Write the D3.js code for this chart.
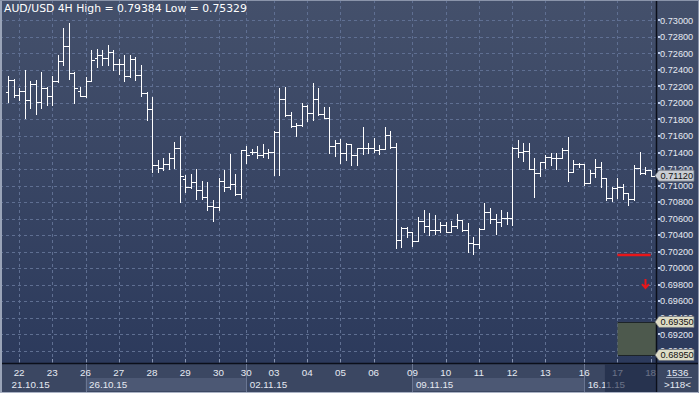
<!DOCTYPE html>
<html><head><meta charset="utf-8">
<script src="https://cdn.jsdelivr.net/npm/d3@7"></script>
<style>html,body{margin:0;padding:0;background:#3a4661;overflow:hidden}svg{display:block}</style>
</head><body>
<svg id="c" width="699" height="393"></svg>
<script>
// ---- DATA ----
const title = "AUD/USD 4H High = 0.79384 Low = 0.75329";
const opens = [
.72132,.72274,.72093,.72148,.72032,.72226,.72011,.72181,.7208,.72269,
.72504,.72689,.72362,.72148,.72084,.72269,.72547,.72576,.72547,.72616,
.72475,.72475,.72326,.72535,.72335,.72124,.7193,.71249,.71213,.71258,
.7133,.71458,.7108,.70987,.7104,.70947,.70866,.70757,.70745,.71056,
.70987,.71016,.70895,.71427,.71403,.7141,.7137,.71391,.7141,.71652,
.72044,.71854,.71725,.71733,.71967,.71875,.72048,.71863,.71814,.71479,
.71512,.71391,.71503,.7137,.71451,.71458,.71458,.71431,.71443,.71612,
.71471,.70342,.7049,.70435,.7033,.70572,.70515,.70463,.70463,.70523,
.70442,.70511,.70584,.70463,.70302,.7029,.70475,.70677,.70596,.70563,
.70608,.70608,.71451,.7141,.71419,.71201,.71156,.71282,.7135,.71337,
.71337,.71431,.71168,.71258,.71258,.71028,.71156,.71221,.71088,.70853,
.70967,.70979,.70907,.70838,.71216,.71149,.71189];
const highs = [
.72322,.72293,.72181,.72395,.72262,.72274,.72374,.72193,.72322,.72584,
.72907,.72967,.72374,.72193,.72314,.72637,.72656,.72637,.72697,.72637,
.72535,.72584,.72584,.72556,.72456,.72132,.72072,.7131,.71334,.71391,
.71531,.716,.71128,.71137,.71197,.71056,.7104,.70826,.71088,.71189,
.71379,.71137,.71431,.71483,.71443,.71483,.715,.71443,.71661,.72184,
.72189,.71894,.71754,.71996,.71975,.72238,.72177,.71955,.71955,.71552,
.71564,.71512,.71503,.71451,.71705,.71512,.71579,.71491,.71713,.71661,
.71512,.70503,.70503,.70442,.70624,.70705,.70665,.70644,.70556,.70563,
.70572,.70653,.70584,.70544,.70382,.70483,.70786,.70725,.70653,.70705,
.7068,.71471,.71552,.71512,.71512,.7133,.71282,.7137,.71391,.71391,
.71451,.71592,.7131,.71277,.71258,.71189,.71322,.71282,.71088,.70987,
.71088,.71016,.70907,.71249,.71403,.71229,.71189];
const lows = [
.72011,.72072,.72039,.71818,.71942,.71863,.71942,.71971,.71979,.72253,
.72456,.72293,.72003,.7208,.72072,.72269,.72435,.72463,.72463,.72395,
.72354,.72269,.72314,.72281,.7208,.7179,.71164,.71164,.71189,.71197,
.71216,.70805,.70919,.70967,.70838,.70838,.70705,.70575,.70705,.70935,
.70959,.70886,.70846,.7127,.71379,.7133,.7135,.71337,.71128,.71128,
.71846,.71705,.71604,.71725,.71782,.71794,.71854,.71814,.71391,.71362,
.7127,.7131,.71249,.71249,.71379,.71391,.71403,.71379,.71443,.71458,
.70241,.70261,.70382,.70273,.7033,.70442,.70402,.70411,.70435,.70442,
.70442,.70483,.70451,.702,.70169,.70248,.70475,.70544,.70411,.70511,
.70535,.70523,.7135,.71298,.71197,.70866,.7112,.71209,.71249,.71197,
.7133,.71056,.71168,.71229,.71007,.71028,.71108,.70987,.70826,.70814,
.70846,.70838,.70765,.70826,.71137,.71137,.7112];
const closes = [
.72274,.72093,.72148,.72032,.72226,.72011,.72181,.7208,.72269,.72504,
.72689,.72362,.72181,.72084,.72269,.72516,.72576,.72547,.72616,.72475,
.72475,.72326,.72535,.72335,.72124,.7193,.71249,.71213,.71258,.7133,
.71458,.7112,.70987,.7104,.70947,.70866,.70757,.70745,.71056,.70987,
.71016,.70895,.71427,.7137,.7141,.7137,.71391,.7141,.71652,.72044,
.71854,.71725,.71733,.71967,.71875,.72048,.71863,.71814,.71479,.71512,
.71391,.71503,.7137,.71451,.71458,.71458,.71431,.71443,.71612,.71471,
.70342,.7049,.70435,.7033,.70572,.70515,.70463,.70463,.70523,.70442,
.70511,.70584,.70463,.70302,.7029,.70475,.70677,.70596,.70563,.70608,
.70608,.71451,.7141,.71419,.71201,.71156,.71282,.7135,.71337,.71337,
.71431,.71168,.71258,.71258,.71028,.71156,.71221,.71088,.70853,.70967,
.70979,.70907,.70838,.71216,.71149,.71189,.7112];
const dayLabels = ["22","23","26","27","28","29","30","30","03","04","05","06","09","10","11","12","13","16","17","18"];
const dayIndex  = [2,8,14,20,26,32,38,43,48,54,60,66,73,79,85,91,97,104,110,116];
const weekLabels = ["21.10.15","26.10.15","02.11.15","09.11.15","16.11.15"];
const weekStart  = [0,14,43,73,104];
const priceTicks = [0.730,0.728,0.726,0.724,0.722,0.720,0.718,0.716,0.714,0.712,0.710,
                    0.708,0.706,0.704,0.702,0.700,0.698,0.696,0.694,0.692,0.690];
const currentPrice = 0.71120;
const levelPrices = [0.69350, 0.68950];
const signalPrice = 0.7016, signalFrom = 110, signalTo = 116;
const arrowIndex = 115, arrowPrice = 0.6976;
const barCount = "1536", shiftText = ">118<";
const overlayFrom = 107.75;

// ---- LAYOUT ----
const W = 699, H = 393, plotR = 656, plotB = 363;
const x = d3.scaleLinear().domain([0, 116]).range([8, 650.64]);
const y = d3.scaleLinear().domain([0.69, 0.73]).range([350.86, 20.3]);
const px = v => Math.round(v) + 0.5;

const svg = d3.select("#c");
const defs = svg.append("defs");
const gr = defs.append("linearGradient").attr("id","bg").attr("x1",0).attr("y1",0).attr("x2",0).attr("y2",1);
gr.append("stop").attr("offset","0%").attr("stop-color","#44506b");
gr.append("stop").attr("offset","100%").attr("stop-color","#2c3a5c");

svg.append("rect").attr("width", W).attr("height", plotB).attr("fill","url(#bg)");
svg.append("rect").attr("y", plotB).attr("width", W).attr("height", H - plotB).attr("fill","#3b4762");

// grid
const grid = svg.append("g").attr("stroke","#5f6f92").attr("stroke-dasharray","3,3").attr("shape-rendering","crispEdges");
grid.selectAll("line.h").data(priceTicks).join("line").attr("class","h")
  .attr("x1",0).attr("x2",plotR).attr("y1",d=>px(y(d))).attr("y2",d=>px(y(d)));
grid.selectAll("line.v").data(dayIndex).join("line").attr("class","v")
  .attr("y1",0).attr("y2",plotB).attr("x1",d=>px(x(d))).attr("x2",d=>px(x(d)));

// level box
svg.append("rect").attr("x", px(x(signalFrom))).attr("width", plotR - px(x(signalFrom)))
  .attr("y", y(levelPrices[0])).attr("height", y(levelPrices[1]) - y(levelPrices[0]))
  .attr("fill","#4d594d");
svg.selectAll("line.lvl").data(levelPrices).join("line").attr("class","lvl")
  .attr("x1", px(x(signalFrom))).attr("x2", plotR).attr("y1", d=>px(y(d))).attr("y2", d=>px(y(d)))
  .attr("stroke","#1d2428").attr("shape-rendering","crispEdges");

// signal line and arrow
svg.append("line").attr("x1", x(signalFrom)).attr("x2", x(signalTo))
  .attr("y1", Math.round(y(signalPrice))).attr("y2", Math.round(y(signalPrice)))
  .attr("stroke","#e8161a").attr("stroke-width",2.4);
const ax = px(x(arrowIndex)), ay = y(arrowPrice);
svg.append("path").attr("d", `M${ax},${ay-9}V${ay}M${ax-3.5},${ay-4}L${ax},${ay}L${ax+3.5},${ay-4}`)
  .attr("stroke","#e8161a").attr("stroke-width",2).attr("fill","none");

// bars
const idx = d3.range(opens.length);
const bars = svg.append("g").attr("stroke","#ffffff").attr("stroke-width",1).attr("shape-rendering","crispEdges");
bars.selectAll("path").data(idx).join("path").attr("d", i => {
  const cx = px(x(i));
  const hy = Math.round(y(highs[i])), ly = Math.round(y(lows[i])) + 1;
  const oy = px(y(opens[i])), cy = px(y(closes[i]));
  return `M${cx},${hy}V${ly}M${cx-3},${oy}H${cx}M${cx},${cy}H${cx+3}`;
});

// title
svg.append("text").attr("x",4).attr("y",12).text(title)
  .attr("font-family","DejaVu Sans, Verdana, sans-serif").attr("font-size","10.8px").attr("fill","#ffffff");

// separators
svg.append("line").attr("x1",0).attr("x2",W).attr("y1",plotB+0.5).attr("y2",plotB+0.5).attr("stroke","#0b0f1a").attr("stroke-width",1.5);
svg.append("line").attr("x1",plotR+0.5).attr("x2",plotR+0.5).attr("y1",0).attr("y2",H).attr("stroke","#0b0f1a").attr("stroke-width",1.5);

// right axis
const axisFont = "Liberation Sans, Arial, sans-serif";
const ra = svg.append("g");
ra.selectAll("rect.tk").data(priceTicks).join("rect").attr("class","tk")
  .attr("x",658).attr("y",d=>Math.round(y(d))-1).attr("width",2).attr("height",2).attr("fill","#c6d4f2");
ra.selectAll("text").data(priceTicks).join("text")
  .attr("x",660).attr("y",d=>y(d)).attr("dy","0.35em")
  .attr("font-family",axisFont).attr("font-size","9.2px").attr("fill","#e6eaf2")
  .text(d=>d3.format(".5f")(d));

function priceTag(v, fill){
  const c = y(v);
  const t = svg.append("g");
  t.append("path").attr("d",`M655,${c}L659,${c-5.5}H694V${c+5.5}H659Z`).attr("fill",fill).attr("stroke","#6f747c").attr("stroke-width",0.8);
  t.append("text").attr("x",660.5).attr("y",c).attr("dy","0.36em").attr("font-family",axisFont)
    .attr("font-size","9.2px").attr("fill","#101010").text(d3.format(".5f")(v));
}
priceTag(currentPrice, "#c9cdd3");
levelPrices.forEach(v => priceTag(v, "#dedcc6"));

// bottom axis
const ba = svg.append("g");
ba.selectAll("line.dt").data(dayIndex).join("line").attr("class","dt")
  .attr("x1",d=>px(x(d))).attr("x2",d=>px(x(d))).attr("y1",359).attr("y2",362).attr("stroke","#8a96b2");
weekStart.forEach((s,k) => {
  const x0 = x(s), x1 = k < weekStart.length-1 ? x(weekStart[k+1]) : plotR;
  if (k % 2 === 1) ba.append("rect").attr("x",x0).attr("y",378).attr("width",x1-x0).attr("height",13).attr("fill","#4c5874");
  if (k > 0) ba.append("line").attr("x1",px(x0)).attr("x2",px(x0)).attr("y1",364).attr("y2",H).attr("stroke","#6a7692");
});
ba.selectAll("text.day").data(dayIndex).join("text").attr("class","day")
  .attr("x",d=>x(d)).attr("y",373).attr("dy","0.35em").attr("text-anchor","middle")
  .attr("font-family",axisFont).attr("font-size","9.8px").attr("fill","#e6eaf2")
  .text((d,i)=>dayLabels[i]);
ba.selectAll("text.wk").data(weekStart).join("text").attr("class","wk")
  .attr("x",d=>x(d)+3.5).attr("y",384.5).attr("dy","0.35em")
  .attr("font-family",axisFont).attr("font-size","9.8px").attr("fill","#e6eaf2")
  .text((d,i)=>weekLabels[i]);
ba.append("rect").attr("x",x(overlayFrom)).attr("y",364.5).attr("width",plotR-x(overlayFrom)).attr("height",H-365)
  .attr("fill","#1c2643").attr("opacity",0.62);

// corner box
svg.append("text").attr("x",677.5).attr("y",372.5).attr("dy","0.35em").attr("text-anchor","middle")
  .attr("font-family",axisFont).attr("font-size","9.8px").attr("fill","#e6eaf2").text(barCount);
svg.append("line").attr("x1",666).attr("x2",692).attr("y1",377.5).attr("y2",377.5).attr("stroke","#98a2b8");
svg.append("text").attr("x",677.5).attr("y",385).attr("dy","0.35em").attr("text-anchor","middle")
  .attr("font-family",axisFont).attr("font-size","9.8px").attr("fill","#e6eaf2").text(shiftText);

// frame
svg.append("rect").attr("x",0).attr("y",0).attr("width",2).attr("height",H).attr("fill","#9aa4b8");
svg.append("rect").attr("x",0).attr("y",0).attr("width",W).attr("height",1).attr("fill","#8a94aa");
svg.append("rect").attr("x",0).attr("y",H-1).attr("width",W).attr("height",1).attr("fill","#aab2c4");
svg.append("rect").attr("x",W-1).attr("y",0).attr("width",1).attr("height",H).attr("fill","#8a94aa");
</script>
</body></html>
